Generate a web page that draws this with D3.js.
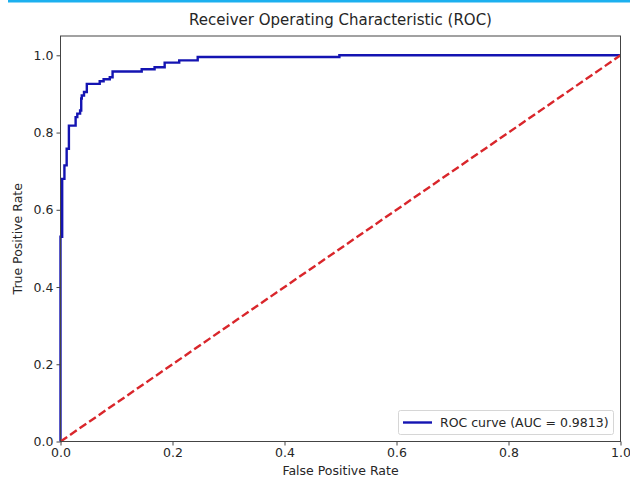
<!DOCTYPE html>
<html>
<head>
<meta charset="utf-8">
<script src="https://cdn.jsdelivr.net/npm/d3@7"></script>
<style>
  body { margin: 0; background: #fff; }
  svg { display: block; font-family: "DejaVu Sans", sans-serif; }
</style>
</head>
<body>
<div id="chart"></div>
<script>
// ROC curve points (step curve)
var fpr = [0, 0, 0.003, 0.003, 0.007, 0.007, 0.011, 0.011, 0.015, 0.015, 0.027, 0.027,
           0.030, 0.030, 0.035, 0.035, 0.037, 0.037, 0.038, 0.038, 0.042, 0.042, 0.047, 0.047,
           0.070, 0.070, 0.077, 0.077, 0.088, 0.088, 0.093, 0.093, 0.145, 0.145, 0.168, 0.168,
           0.186, 0.186, 0.212, 0.212, 0.245, 0.245, 0.498, 0.498, 1.0];
var tpr = [0, 0.53, 0.53, 0.68, 0.68, 0.715, 0.715, 0.758, 0.758, 0.818, 0.818, 0.840,
           0.840, 0.849, 0.849, 0.857, 0.857, 0.888, 0.888, 0.896, 0.896, 0.905, 0.905, 0.926,
           0.926, 0.933, 0.933, 0.938, 0.938, 0.943, 0.943, 0.958, 0.958, 0.964, 0.964, 0.969,
           0.969, 0.981, 0.981, 0.987, 0.987, 0.9957, 0.9957, 1.0, 1.0];
var chanceX = [0, 1];
var chanceY = [0, 1];
var xTicks = [0, 0.2, 0.4, 0.6, 0.8, 1.0];
var yTicks = [0, 0.2, 0.4, 0.6, 0.8, 1.0];
var aucLabel = "ROC curve (AUC = 0.9813)";

var width = 630, height = 477;
var margin = {left: 60.5, right: 9.5, top: 36, bottom: 35.5};
var fs = "12.5px";

var svg = d3.select("#chart").append("svg")
    .attr("width", width)
    .attr("height", height);

// thin bar at the top of the screenshot
svg.append("rect")
    .attr("x", 8).attr("y", 0)
    .attr("width", width - 8).attr("height", 2.5)
    .attr("fill", "#1cb0ef");

var x = d3.scaleLinear().domain([0, 1]).range([margin.left, width - margin.right]);
var y = d3.scaleLinear().domain([0, 1.05]).range([height - margin.bottom, margin.top]);

var g = svg.append("g");

var line = d3.line()
    .x(function(d){ return x(d[0]); })
    .y(function(d){ return y(d[1]); });

var roc = fpr.map(function(v, i){ return [v, tpr[i]]; });
var chance = chanceX.map(function(v, i){ return [v, chanceY[i]]; });

g.append("path")
    .datum(roc)
    .attr("d", line)
    .attr("fill", "none")
    .attr("stroke", "#1414b2")
    .attr("stroke-width", 2.4)
    .attr("stroke-linejoin", "miter");

g.append("path")
    .datum(chance)
    .attr("d", line)
    .attr("fill", "none")
    .attr("stroke", "#d9262b")
    .attr("stroke-width", 2.4)
    .attr("stroke-dasharray", "8.1,3.5");

// frame
svg.append("rect")
    .attr("x", x(0)).attr("y", y(1.05))
    .attr("width", x(1) - x(0)).attr("height", y(0) - y(1.05))
    .attr("fill", "none")
    .attr("stroke", "#444")
    .attr("stroke-width", 1);

var xAxis = svg.append("g")
    .attr("transform", "translate(0," + y(0) + ")")
    .call(d3.axisBottom(x).tickValues(xTicks).tickFormat(d3.format(".1f")).tickSizeOuter(0).tickSize(4).tickPadding(3));
var yAxis = svg.append("g")
    .attr("transform", "translate(" + x(0) + ",0)")
    .call(d3.axisLeft(y).tickValues(yTicks).tickFormat(d3.format(".1f")).tickSizeOuter(0).tickSize(4).tickPadding(3));

[xAxis, yAxis].forEach(function(a){
    a.select(".domain").remove();
    a.selectAll("line").attr("stroke", "#444");
    a.selectAll("text").attr("fill", "#262626").style("font-size", fs).style("font-family", "DejaVu Sans");
});

// legend
var lg = svg.append("g");
lg.append("rect")
    .attr("x", 398.5).attr("y", 410.5)
    .attr("width", 215).attr("height", 24)
    .attr("rx", 2)
    .attr("fill", "#fff")
    .attr("stroke", "#d6d6d6");
lg.append("line")
    .attr("x1", 403).attr("x2", 432)
    .attr("y1", 422.5).attr("y2", 422.5)
    .attr("stroke", "#1414b2").attr("stroke-width", 2.4);
lg.append("text")
    .attr("x", 440).attr("y", 427)
    .attr("fill", "#262626")
    .style("font-size", fs)
    .text(aucLabel);

// title and labels
svg.append("text")
    .attr("x", (x(0) + x(1)) / 2).attr("y", 25)
    .attr("text-anchor", "middle")
    .attr("fill", "#262626")
    .style("font-size", "15px")
    .text("Receiver Operating Characteristic (ROC)");

svg.append("text")
    .attr("x", (x(0) + x(1)) / 2).attr("y", 475)
    .attr("text-anchor", "middle")
    .attr("fill", "#262626")
    .style("font-size", fs)
    .text("False Positive Rate");

svg.append("text")
    .attr("transform", "translate(22," + ((y(0) + y(1.05)) / 2) + ") rotate(-90)")
    .attr("text-anchor", "middle")
    .attr("fill", "#262626")
    .style("font-size", fs)
    .text("True Positive Rate");
</script>
</body>
</html>
